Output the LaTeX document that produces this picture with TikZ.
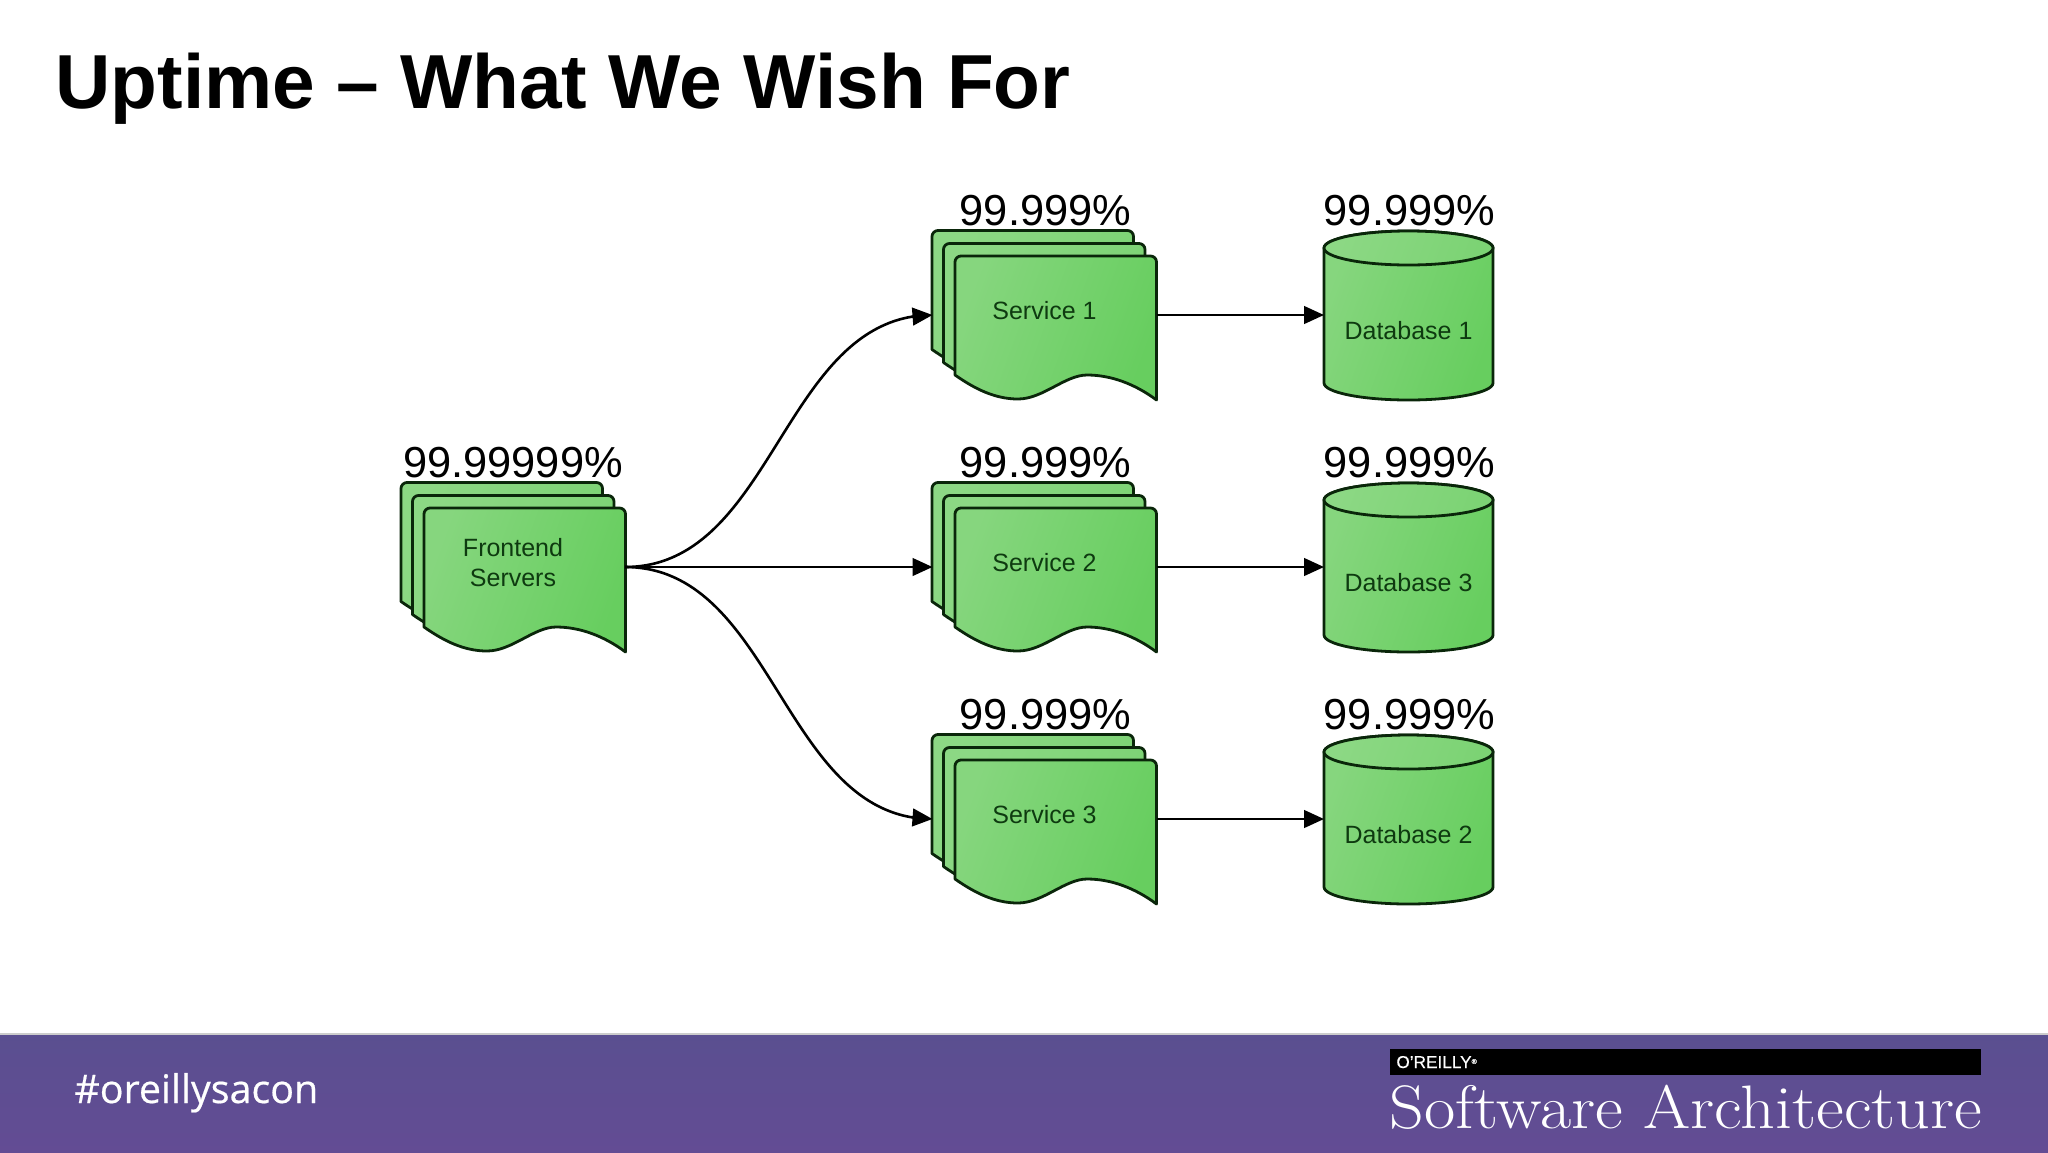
\documentclass[tikz,border=0pt]{standalone}
\usepackage{fontspec}
\usepackage{graphicx}
\setsansfont{Liberation Sans}
\newfontfamily\tagfont{Open Sans}[FakeBold=0.5]
\newfontfamily\brandfont{Liberation Sans}[FakeBold=0.4]
\usetikzlibrary{arrows.meta,bending}
\definecolor{gfront1}{HTML}{86D67E}
\definecolor{gfront2}{HTML}{67CE5F}
\definecolor{gback1}{HTML}{8CD884}
\definecolor{gback2}{HTML}{7CD374}
\definecolor{inkline}{HTML}{0A260A}
\definecolor{inktext}{HTML}{0E3A10}
\definecolor{bar1}{HTML}{5A4F90}
\definecolor{bar2}{HTML}{634C94}
\tikzset{
  sheetfront/.style={draw=inkline,line width=1.4pt,line join=round,left color=gfront1,right color=gfront2,shading angle=70},
  sheetback/.style={draw=inkline,line width=1.4pt,line join=round,left color=gback1,right color=gback2,shading angle=70},
  stackbox/.style={minimum width=112pt,minimum height=84.5pt,inner sep=0pt,outer sep=0pt},
  dbbox/.style={minimum width=84.5pt,minimum height=84.5pt,inner sep=0pt,outer sep=0pt},
  pct/.style={font=\sffamily\fontsize{21.7}{24}\selectfont,text=black,anchor=base,inner sep=0pt},
  inner/.style={font=\sffamily\fontsize{12.5}{15}\selectfont,text=inktext,align=center,inner sep=0pt},
  link/.style={draw=black,line width=1.3pt,-{Triangle[length=10pt,width=8.8pt,flex]}}
}
% one sheet of a stack; #1 style, #2 x, #3 y of its top-left corner
\newcommand{\onesheet}[3]{%
  \path[#1,shift={(#2,#3)}]
    (0,119) [rounded corners=3pt] -- (0,0) -- (201.5,0) [sharp corners] -- (201.5,144)
    .. controls (180,128) and (156,119) .. (132,119)
    .. controls (110,119) and (88,143) .. (63,143)
    .. controls (40,143) and (20,133) .. (0,119) -- cycle;}
\newcommand{\stackof}[2]{%
  \onesheet{sheetback}{#1-23}{#2-25.5}
  \onesheet{sheetback}{#1-11.5}{#2-12.5}
  \onesheet{sheetfront}{#1}{#2}}
% #1 left x, #2 top y
\newcommand{\cylinder}[2]{%
  \path[sheetfront,shift={(#1,#2)}]
    (0,17) -- (0,152) arc[start angle=180,end angle=0,x radius=84.5,y radius=17] -- (169,17)
    arc[start angle=0,end angle=-180,x radius=84.5,y radius=17] -- cycle;
  \path[sheetback,shift={(#1,#2)}]
    (0,17) arc[start angle=180,end angle=-180,x radius=84.5,y radius=17] -- cycle;}
\begin{document}
\begin{tikzpicture}[x=0.5pt,y=-0.5pt]
\useasboundingbox (0,0) rectangle (2048,1152);
\fill[white] (0,0) rectangle (2048,1152);
% title
\node[anchor=base west,inner sep=0pt,font=\sffamily\bfseries\fontsize{38.3}{44}\selectfont,text=black] (title) at (55,108.5) {Uptime – What We Wish For};
% stacks
\stackof{424}{508}
\stackof{955}{256}
\stackof{955}{508}
\stackof{955}{760}
\cylinder{1324}{231}
\cylinder{1324}{483}
\cylinder{1324}{735}
% anchor boxes
\node[stackbox] (fe) at (513,567) {};
\node[stackbox] (s1) at (1044.5,315) {};
\node[stackbox] (s2) at (1044.5,567) {};
\node[stackbox] (s3) at (1044.5,819) {};
\node[dbbox] (d1) at (1408.5,315) {};
\node[dbbox] (d3) at (1408.5,567) {};
\node[dbbox] (d2) at (1408.5,819) {};
% inner labels
\node[inner] (felabel) at (513,563) {Frontend\\Servers};
\node[inner] (s1label) at (1044.5,311) {Service 1};
\node[inner] (s2label) at (1044.5,563) {Service 2};
\node[inner] (s3label) at (1044.5,815) {Service 3};
\node[inner] (d1label) at (1408.5,331) {Database 1};
\node[inner] (d3label) at (1408.5,583) {Database 3};
\node[inner] (d2label) at (1408.5,835) {Database 2};
% percentages
\node[pct] (pfe) at (513,477) {99.99999\%};
\node[pct] (ps1) at (1045.5,225) {99.999\%};
\node[pct] (ps2) at (1045.5,477) {99.999\%};
\node[pct] (ps3) at (1045.5,729) {99.999\%};
\node[pct] (pd1) at (1409.5,225) {99.999\%};
\node[pct] (pd3) at (1409.5,477) {99.999\%};
\node[pct] (pd2) at (1409.5,729) {99.999\%};
% connectors
\draw[link] (fe.east) .. controls +(150,0) and +(-150,0) .. (s1.west);
\draw[link] (fe.east) -- (s2.west);
\draw[link] (fe.east) .. controls +(150,0) and +(-150,0) .. (s3.west);
\draw[link] (s1.east) -- (d1.west);
\draw[link] (s2.east) -- (d3.west);
\draw[link] (s3.east) -- (d2.west);
% footer
\fill[top color=bar1,bottom color=bar2] (0,1034) rectangle (2048,1152);
\fill[black!20!white] (0,1033) rectangle (2048,1034.5);
\node[anchor=base west,inner sep=0pt,text=white,font=\tagfont\fontsize{19.7}{22}\selectfont] (tag) at (74,1103) {\#oreillysacon};
\fill[black] (1390,1049) rectangle (1981,1075);
\node[anchor=base west,inner sep=0pt,text=white,font=\brandfont\fontsize{8.6}{10}\selectfont] (brand) at (1396,1068) {O’REILLY\raisebox{0.45ex}{\fontsize{3.5}{4}\selectfont®}};
\node[anchor=base west,inner sep=0pt,text=white,font=\rmfamily\fontsize{30.7}{34}\selectfont] (sa) at (1389,1128) {\scalebox{1.108}[1]{Software Architecture}};
\end{tikzpicture}
\end{document}
